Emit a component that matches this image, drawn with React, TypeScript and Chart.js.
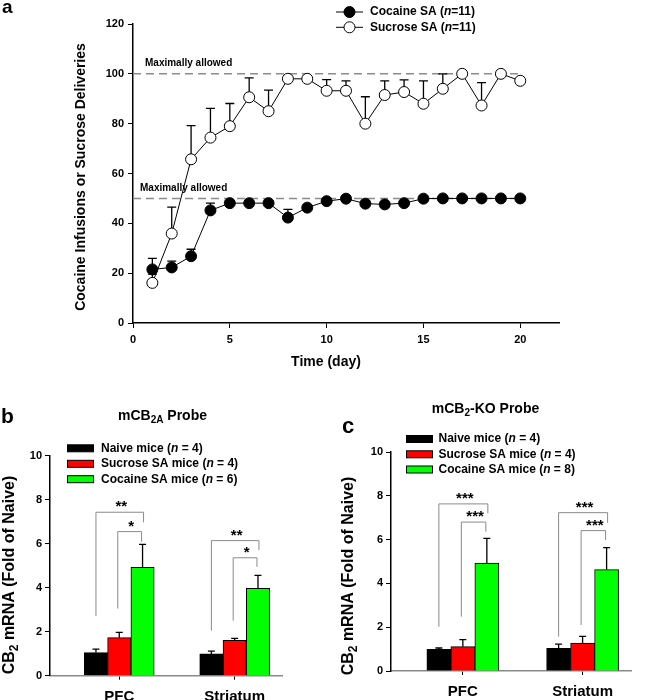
import React, { useEffect, useRef } from 'react';
import { Chart, registerables } from 'chart.js';

Chart.register(...registerables);

// ---------- Panel a data ----------
const days = [1, 2, 3, 4, 5, 6, 7, 8, 9, 10, 11, 12, 13, 14, 15, 16, 17, 18, 19, 20];
const cocaineMean = [21.5, 22.3, 26.8, 45.2, 48.1, 48.1, 48.1, 42.3, 46.3, 48.9, 49.9, 47.9, 47.6, 48.1, 49.9, 50, 50, 50, 50, 50];
const cocaineSem = [4.4, 2.5, 2.8, 2.9, 0, 0, 0, 3.3, 0, 0, 0, 0, 0, 0, 0, 0, 0, 0, 0, 0];
const sucroseMean = [16.1, 35.9, 65.7, 74.4, 79, 90.6, 85, 98, 98, 93.2, 93.2, 80, 91.5, 92.7, 88, 94, 100, 87.3, 100, 97.2];
const sucroseSem = [3.5, 10.6, 13.5, 11.7, 9.1, 7.8, 8.5, 0, 0, 4.5, 4.0, 10.8, 5.7, 4.9, 9.2, 6, 0, 9.2, 0, 0];
const maxAllowedLevels = [100, 50];
const dayTicks = [0, 5, 10, 15, 20];
const countsA = [11, 11];

// ---------- Panels b / c data ----------
const regions = ['PFC', 'Striatum'];
const groupNames = ['Naive mice', 'Sucrose SA mice', 'Cocaine SA mice'];
const groupColors = ['#000000', '#ff0000', '#00ff00'];
const yTicksBars = [0, 2, 4, 6, 8, 10];

const bCounts = [4, 4, 6];
const bNaive = [1.05, 0.99];
const bNaiveSem = [0.16, 0.13];
const bSucrose = [1.73, 1.61];
const bSucroseSem = [0.24, 0.09];
const bCocaine = [4.93, 3.97];
const bCocaineSem = [1.04, 0.59];
// bracket: [top, left leg bottom, right leg bottom] per region
const bOuterBracket = [[7.43, 2.71, 6.97], [6.14, 2.05, 5.71]];
const bInnerBracket = [[6.55, 3.05, 6.09], [5.36, 2.5, 4.95]];
const bOuterStars = ['**', '**'];
const bInnerStars = ['*', '*'];

const cCounts = [4, 4, 8];
const cNaive = [0.99, 1.04];
const cNaiveSem = [0.06, 0.19];
const cSucrose = [1.11, 1.28];
const cSucroseSem = [0.32, 0.3];
const cCocaine = [4.93, 4.63];
const cCocaineSem = [1.13, 1.0];
const cOuterBracket = [[7.63, 2.02, 7.2], [7.23, 1.57, 6.77]];
const cInnerBracket = [[6.8, 2.48, 6.36], [6.41, 2.1, 5.98]];
const cOuterStars = ['***', '***'];
const cInnerStars = ['***', '***'];

const FONT = '"Liberation Sans", Arial, Helvetica, sans-serif';

type Part = { t: string; italic?: boolean; sub?: boolean };

function drawParts(ctx: CanvasRenderingContext2D, parts: Part[], x: number, y: number, size: number, align: 'left' | 'center') {
  ctx.save();
  ctx.textBaseline = 'middle';
  ctx.textAlign = 'left';
  ctx.fillStyle = '#000';
  const fontOf = (p: Part) => `${p.italic ? 'italic ' : ''}bold ${p.sub ? Math.round(size * 0.72) : size}px ${FONT}`;
  let total = 0;
  const widths = parts.map((p) => {
    ctx.font = fontOf(p);
    const w = ctx.measureText(p.t).width;
    total += w;
    return w;
  });
  let cx = align === 'center' ? x - total / 2 : x;
  parts.forEach((p, i) => {
    ctx.font = fontOf(p);
    ctx.fillText(p.t, cx, p.sub ? y + size * 0.3 : y);
    cx += widths[i];
  });
  ctx.restore();
}

function drawRotated(ctx: CanvasRenderingContext2D, parts: Part[], x: number, y: number, size: number) {
  ctx.save();
  ctx.translate(x, y);
  ctx.rotate(-Math.PI / 2);
  drawParts(ctx, parts, 0, 0, size, 'center');
  ctx.restore();
}

function drawErrorBars(chart: any, sems: number[][], cap: number, width: number) {
  const ctx = chart.ctx;
  const ys = chart.scales.y;
  ctx.save();
  ctx.strokeStyle = '#000';
  ctx.lineWidth = width;
  sems.forEach((sem, di) => {
    const meta = chart.getDatasetMeta(di);
    const ds = chart.data.datasets[di];
    meta.data.forEach((el: any, i: number) => {
      if (!sem[i]) return;
      const v = ds.data[i].y;
      const y0 = ys.getPixelForValue(v);
      const y1 = ys.getPixelForValue(v + sem[i]);
      ctx.beginPath();
      ctx.moveTo(el.x, y0);
      ctx.lineTo(el.x, y1);
      ctx.moveTo(el.x - cap / 2, y1);
      ctx.lineTo(el.x + cap / 2, y1);
      ctx.stroke();
    });
  });
  ctx.restore();
}

function drawBrackets(chart: any, outer: number[][], inner: number[][], outerStars: string[], innerStars: string[]) {
  const ctx = chart.ctx;
  const ys = chart.scales.y;
  const m0 = chart.getDatasetMeta(0).data;
  const m1 = chart.getDatasetMeta(1).data;
  const m2 = chart.getDatasetMeta(2).data;
  ctx.save();
  ctx.strokeStyle = '#8a8a8a';
  ctx.lineWidth = 1;
  regions.forEach((_, i) => {
    const xN = m0[i].x;
    const xS = m1[i].x - 1.5;
    const xC = m2[i].x;
    const o = outer[i];
    const n = inner[i];
    ctx.beginPath();
    ctx.moveTo(xN, ys.getPixelForValue(o[1]));
    ctx.lineTo(xN, ys.getPixelForValue(o[0]));
    ctx.lineTo(xC + 1, ys.getPixelForValue(o[0]));
    ctx.lineTo(xC + 1, ys.getPixelForValue(o[2]));
    ctx.moveTo(xS, ys.getPixelForValue(n[1]));
    ctx.lineTo(xS, ys.getPixelForValue(n[0]));
    ctx.lineTo(xC - 1, ys.getPixelForValue(n[0]));
    ctx.lineTo(xC - 1, ys.getPixelForValue(n[2]));
    ctx.stroke();
    ctx.fillStyle = '#000';
    ctx.font = `bold 15px ${FONT}`;
    ctx.textAlign = 'center';
    ctx.textBaseline = 'alphabetic';
    ctx.fillText(outerStars[i], (xN + xC) / 2 + 2, ys.getPixelForValue(o[0]) - 1);
    ctx.fillText(innerStars[i], (xS + xC) / 2 + 1, ys.getPixelForValue(n[0]) - 1);
  });
  ctx.restore();
}

function barLegend(ctx: CanvasRenderingContext2D, counts: number[], boxX: number, textX: number, rows: number[]) {
  groupNames.forEach((g, i) => {
    ctx.save();
    ctx.fillStyle = groupColors[i];
    ctx.fillRect(boxX, rows[i] - 3.5, 27, 7);
    ctx.strokeStyle = '#000';
    ctx.lineWidth = 1;
    ctx.strokeRect(boxX + 0.5, rows[i] - 3.5, 26, 7);
    ctx.restore();
    drawParts(ctx, [{ t: g + ' (' }, { t: 'n', italic: true }, { t: ' = ' + counts[i] + ')' }], textX, rows[i], 12, 'left');
  });
}

function lineChartConfig(): any {
  const tickFont = { family: FONT, weight: 'bold', size: 11 };
  return {
    type: 'line',
    data: {
      datasets: [
        {
          label: 'Cocaine SA',
          data: days.map((d, i) => ({ x: d, y: cocaineMean[i] })),
          borderColor: '#000',
          borderWidth: 1,
          backgroundColor: '#000',
          pointBackgroundColor: '#000',
          pointBorderColor: '#000',
          pointBorderWidth: 1,
          pointRadius: 5.5,
          tension: 0,
        },
        {
          label: 'Sucrose SA',
          data: days.map((d, i) => ({ x: d, y: sucroseMean[i] })),
          borderColor: '#000',
          borderWidth: 1,
          backgroundColor: '#fff',
          pointBackgroundColor: '#fff',
          pointBorderColor: '#000',
          pointBorderWidth: 1,
          pointRadius: 5.5,
          tension: 0,
        },
      ],
    },
    options: {
      responsive: false,
      animation: false,
      events: [],
      layout: { padding: { left: 73, top: 24, right: 99, bottom: 0 } },
      plugins: { legend: { display: false }, tooltip: { enabled: false }, title: { display: false } },
      scales: {
        x: {
          type: 'linear',
          min: 0,
          max: 22,
          afterBuildTicks: (s: any) => { s.ticks = dayTicks.map((v) => ({ value: v })); },
          afterFit: (s: any) => { s.height = 700 - 323; },
          grid: { display: true, drawOnChartArea: false, drawTicks: true, tickLength: 5, color: '#000', lineWidth: 1 },
          border: { display: true, color: '#000', width: 1.5 },
          ticks: { font: tickFont, color: '#000', padding: 5, maxRotation: 0 },
        },
        y: {
          min: 0,
          max: 120,
          afterFit: (s: any) => { s.width = 60; },
          grid: { display: true, drawOnChartArea: false, drawTicks: true, tickLength: 5, color: '#000', lineWidth: 1 },
          border: { display: true, color: '#000', width: 1.5 },
          ticks: { stepSize: 20, font: tickFont, color: '#000', padding: 4 },
        },
      },
    },
    plugins: [
      {
        id: 'panelA',
        beforeDatasetsDraw(chart: any) {
          const ctx = chart.ctx;
          const xs = chart.scales.x;
          const ys = chart.scales.y;
          ctx.save();
          ctx.strokeStyle = '#8c8c8c';
          ctx.lineWidth = 1.5;
          ctx.setLineDash([8, 5]);
          maxAllowedLevels.forEach((lv) => {
            const y = ys.getPixelForValue(lv);
            ctx.beginPath();
            ctx.moveTo(xs.getPixelForValue(0), y);
            ctx.lineTo(xs.getPixelForValue(20), y);
            ctx.stroke();
          });
          ctx.restore();
          drawErrorBars(chart, [cocaineSem, sucroseSem], 9, 1.3);
        },
        afterDraw(chart: any) {
          const ctx = chart.ctx;
          const xs = chart.scales.x;
          const ys = chart.scales.y;
          ctx.save();
          ctx.fillStyle = '#000';
          ctx.font = `bold 10px ${FONT}`;
          ctx.textBaseline = 'middle';
          ctx.textAlign = 'left';
          ctx.fillText('Maximally allowed', xs.getPixelForValue(0) + 12, ys.getPixelForValue(100) - 10.5);
          ctx.fillText('Maximally allowed', xs.getPixelForValue(0) + 7, ys.getPixelForValue(50) - 10.5);
          ctx.restore();
          // panel letter
          drawParts(ctx, [{ t: 'a' }], 2, 8, 19, 'left');
          // axis titles
          drawRotated(ctx, [{ t: 'Cocaine Infusions or Sucrose Deliveries' }], 81.5, 177, 14);
          drawParts(ctx, [{ t: 'Time (day)' }], 326, 362, 14, 'center');
          // legend
          const rows = [12, 27.3];
          const names = ['Cocaine SA', 'Sucrose SA'];
          const fills = ['#000', '#fff'];
          rows.forEach((ry, i) => {
            ctx.save();
            ctx.strokeStyle = '#000';
            ctx.lineWidth = 1;
            ctx.beginPath();
            ctx.moveTo(336, ry);
            ctx.lineTo(363, ry);
            ctx.stroke();
            ctx.beginPath();
            ctx.arc(349.5, ry, 5.5, 0, Math.PI * 2);
            ctx.fillStyle = fills[i];
            ctx.fill();
            ctx.stroke();
            ctx.restore();
            drawParts(ctx, [{ t: names[i] + ' (' }, { t: 'n', italic: true }, { t: '=' + countsA[i] + ')' }], 370, ry, 12, 'left');
          });
        },
      },
    ],
  };
}

function barChartConfig(
  naive: number[], sucrose: number[], cocaine: number[],
  sems: number[][], area: { left: number; right: number; top: number; bottom: number },
  barW: number, labelPad: number, draw: (chart: any) => void
): any {
  const tickFont = { family: FONT, weight: 'bold', size: 11 };
  const series = [naive, sucrose, cocaine];
  return {
    type: 'bar',
    data: {
      datasets: series.map((vals, di) => ({
        label: groupNames[di],
        data: vals.map((v, i) => ({ x: i + 1, y: v })),
        backgroundColor: groupColors[di],
        borderColor: '#000',
        borderWidth: 1,
        borderSkipped: 'start',
        barThickness: barW,
      })),
    },
    options: {
      responsive: false,
      animation: false,
      events: [],
      layout: { padding: { left: area.left - 40, top: area.top, right: 658 - area.right, bottom: 0 } },
      plugins: { legend: { display: false }, tooltip: { enabled: false }, title: { display: false } },
      scales: {
        x: {
          type: 'linear',
          min: 0.4,
          max: 2.41,
          offset: false,
          afterBuildTicks: (s: any) => { s.ticks = regions.map((_, i) => ({ value: i + 1 })); },
          afterFit: (s: any) => { s.height = 700 - area.bottom; },
          grid: { display: true, offset: false, drawOnChartArea: false, drawTicks: true, tickLength: 4, color: '#000', lineWidth: 1 },
          border: { display: true, color: '#8a8a8a', width: 1.5 },
          ticks: {
            font: { family: FONT, weight: 'bold', size: 15 },
            color: '#000',
            padding: labelPad,
            maxRotation: 0,
            callback: (v: number) => regions[Math.round(v) - 1] ?? '',
          },
        },
        y: {
          min: 0,
          max: 10,
          afterBuildTicks: (s: any) => { s.ticks = yTicksBars.map((v) => ({ value: v })); },
          afterFit: (s: any) => { s.width = 40; },
          grid: { display: true, drawOnChartArea: false, drawTicks: true, tickLength: 5, color: '#000', lineWidth: 1 },
          border: { display: true, color: '#000', width: 1.5 },
          ticks: { font: tickFont, color: '#000', padding: 3 },
        },
      },
    },
    plugins: [
      {
        id: 'barExtras',
        afterDatasetsDraw(chart: any) {
          drawErrorBars(chart, sems, 7, 1.3);
        },
        afterDraw(chart: any) {
          draw(chart);
        },
      },
    ],
  };
}

function useChart(ref: React.RefObject<HTMLCanvasElement>, make: () => any) {
  useEffect(() => {
    if (!ref.current) return;
    const chart = new Chart(ref.current, make());
    return () => chart.destroy();
  }, []);
}

export default function App() {
  const aRef = useRef<HTMLCanvasElement>(null);
  const bRef = useRef<HTMLCanvasElement>(null);
  const cRef = useRef<HTMLCanvasElement>(null);

  useChart(aRef, lineChartConfig);
  useChart(bRef, () =>
    barChartConfig(
      bNaive, bSucrose, bCocaine,
      [bNaiveSem, bSucroseSem, bCocaineSem],
      { left: 50, right: 282, top: 455.7, bottom: 675.7 },
      23.3, 8,
      (chart: any) => {
        const ctx = chart.ctx;
        drawBrackets(chart, bOuterBracket, bInnerBracket, bOuterStars, bInnerStars);
        drawParts(ctx, [{ t: 'b' }], 1, 417, 21, 'left');
        drawParts(ctx, [{ t: 'mCB' }, { t: '2A', sub: true }, { t: ' Probe' }], 162.5, 416, 14, 'center');
        barLegend(ctx, bCounts, 67, 101, [448.3, 463.8, 479.2]);
        drawRotated(ctx, [{ t: 'CB' }, { t: '2', sub: true }, { t: ' mRNA (Fold of Naive)' }], 9.5, 575, 16);
      }
    )
  );
  useChart(cRef, () =>
    barChartConfig(
      cNaive, cSucrose, cCocaine,
      [cNaiveSem, cSucroseSem, cCocaineSem],
      { left: 391, right: 631.7, top: 452, bottom: 671 },
      24, 8,
      (chart: any) => {
        const ctx = chart.ctx;
        drawBrackets(chart, cOuterBracket, cInnerBracket, cOuterStars, cInnerStars);
        drawParts(ctx, [{ t: 'c' }], 342, 427, 22, 'left');
        drawParts(ctx, [{ t: 'mCB' }, { t: '2', sub: true }, { t: '-KO Probe' }], 485.5, 409, 14, 'center');
        barLegend(ctx, cCounts, 406, 438.5, [439, 454.3, 469.5]);
        drawRotated(ctx, [{ t: 'CB' }, { t: '2', sub: true }, { t: ' mRNA (Fold of Naive)' }], 348.5, 576, 16);
      }
    )
  );

  const canvasStyle: React.CSSProperties = { position: 'absolute', left: 0, top: 0, display: 'block' };
  return (
    <div style={{ position: 'absolute', left: 0, top: 0, width: 658, height: 700, background: '#fff', overflow: 'hidden' }}>
      <canvas ref={aRef} width={658} height={700} style={canvasStyle} />
      <canvas ref={bRef} width={658} height={700} style={canvasStyle} />
      <canvas ref={cRef} width={658} height={700} style={canvasStyle} />
    </div>
  );
}
